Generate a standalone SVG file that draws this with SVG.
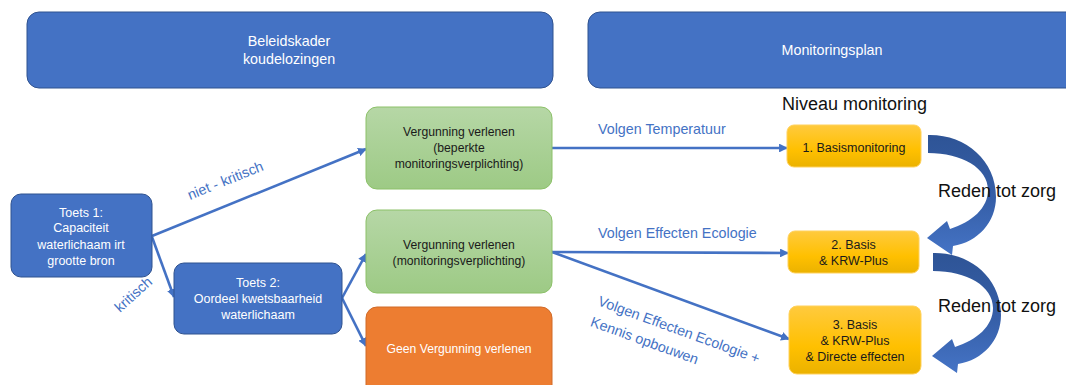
<svg xmlns="http://www.w3.org/2000/svg" width="1066" height="385" viewBox="0 0 1066 385">
  <defs>
    <style>
      text { font-family: "Liberation Sans", Arial, sans-serif; }
      .hdr { fill: #4472C4; stroke: #2F528F; stroke-width: 1; }
      .hdrt { fill: #ffffff; font-size: 14.3px; text-anchor: middle; }
      .toets { fill: #4472C4; stroke: #2F528F; stroke-width: 1; }
      .toetst { fill: #ffffff; font-size: 12.5px; text-anchor: middle; }
      .green { fill: url(#gGreen); stroke: #8CC168; stroke-width: 1; }
      .greent { fill: #1a1a1a; font-size: 12.2px; text-anchor: middle; }
      .orange { fill: #ED7D31; stroke: #D06A28; stroke-width: 1; }
      .oranget { fill: #ffffff; font-size: 12.2px; text-anchor: middle; }
      .yellow { fill: url(#gYellow); stroke: #FFD15C; stroke-width: 1; }
      .yellowt { fill: #1a1a1a; font-size: 12.5px; text-anchor: middle; }
      .conn { stroke: #4472C4; stroke-width: 2.6; fill: none; marker-end: url(#ah); }
      .lbl { fill: #4472C4; font-size: 14.3px; }
      .big { fill: #111111; font-size: 18px; }
    </style>
    <linearGradient id="gGreen" x1="0" y1="0" x2="0" y2="1">
      <stop offset="0" stop-color="#B6D7A6"/>
      <stop offset="1" stop-color="#9DCA85"/>
    </linearGradient>
    <linearGradient id="gYellow" x1="0" y1="0" x2="0" y2="1">
      <stop offset="0" stop-color="#FFCA3E"/>
      <stop offset="0.6" stop-color="#FFC000"/>
      <stop offset="1" stop-color="#EBB200"/>
    </linearGradient>
    <linearGradient id="gArrow" x1="0" y1="0" x2="0" y2="1">
      <stop offset="0" stop-color="#2E5496"/>
      <stop offset="0.55" stop-color="#365FA8"/>
      <stop offset="1" stop-color="#4574C6"/>
    </linearGradient>
    <marker id="ah" viewBox="0 0 10 10" refX="9" refY="5" markerWidth="3.4" markerHeight="3.4" orient="auto" markerUnits="strokeWidth">
      <path d="M0,0 L10,5 L0,10 Z" fill="#4472C4"/>
    </marker>
    <path id="curvedArrow" d="M928,135 C965,134 996,160 996,197 C996,222 978,242 953,246 L952,255 L927,238 L947,221 L950,229 C972,222 988,208 988,190 C988,168 962,153 928,153 Z" fill="url(#gArrow)"/>
  </defs>

  <g id="beleidskader">
    <rect class="hdr" x="27" y="12" width="526" height="76" rx="12"/>
    <text class="hdrt" x="289" y="46">Beleidskader</text>
    <text class="hdrt" x="289" y="64">koudelozingen</text>
  </g>
  <g id="monitoringsplan">
    <rect class="hdr" x="588" y="12" width="500" height="76" rx="12"/>
    <text class="hdrt" x="832" y="55">Monitoringsplan</text>
  </g>

  <g id="niveau-monitoring">
    <text class="big" x="782" y="110" font-size="18.5">Niveau monitoring</text>
  </g>

  <g id="connectors">
    <path class="conn" d="M152,236 L366,149"/>
    <path class="conn" d="M152,237 L174,297"/>
    <path class="conn" d="M342,298 L366,254"/>
    <path class="conn" d="M342,298 L366,346"/>
    <path class="conn" d="M552,148 L787,148"/>
    <path class="conn" d="M552,252 L788,253"/>
    <path class="conn" d="M552,252 L789,339"/>
    <text class="lbl" transform="translate(190,200) rotate(-22)">niet - kritisch</text>
    <text class="lbl" transform="translate(120,313) rotate(-42)">kritisch</text>
    <text class="lbl" x="598" y="134">Volgen Temperatuur</text>
    <text class="lbl" x="598" y="238">Volgen Effecten Ecologie</text>
    <text class="lbl" transform="translate(597,305) rotate(20)"><tspan x="0" y="0">Volgen Effecten Ecologie +</tspan><tspan x="0" y="22">Kennis opbouwen</tspan></text>
  </g>

  <g id="toets1">
    <rect class="toets" x="11" y="194" width="141" height="83" rx="10"/>
    <text class="toetst" x="81" y="216.5">Toets 1:</text>
    <text class="toetst" x="81" y="232">Capaciteit</text>
    <text class="toetst" x="81" y="248.5">waterlichaam irt</text>
    <text class="toetst" x="81" y="265">grootte bron</text>
  </g>
  <g id="toets2">
    <rect class="toets" x="174" y="263" width="168" height="71" rx="10"/>
    <text class="toetst" x="258" y="286.5">Toets 2:</text>
    <text class="toetst" x="258" y="302.5">Oordeel kwetsbaarheid</text>
    <text class="toetst" x="258" y="318.5">waterlichaam</text>
  </g>

  <g id="vergunning-beperkt">
    <rect class="green" x="366" y="107" width="186" height="82" rx="11"/>
    <text class="greent" x="459" y="136">Vergunning verlenen</text>
    <text class="greent" x="459" y="152.3">(beperkte</text>
    <text class="greent" x="459" y="168">monitoringsverplichting)</text>
  </g>
  <g id="vergunning-monitoring">
    <rect class="green" x="366" y="210" width="186" height="83" rx="11"/>
    <text class="greent" x="459" y="249.3">Vergunning verlenen</text>
    <text class="greent" x="459" y="265">(monitoringsverplichting)</text>
  </g>
  <g id="geen-vergunning">
    <rect class="orange" x="366" y="307" width="186" height="95" rx="11"/>
    <text class="oranget" x="459" y="352.7">Geen Vergunning verlenen</text>
  </g>

  <g id="basismonitoring">
    <rect class="yellow" x="787" y="125" width="134" height="42" rx="7"/>
    <text class="yellowt" x="854" y="151.7">1. Basismonitoring</text>
  </g>
  <g id="basis-krw">
    <rect class="yellow" x="788" y="231" width="131" height="42" rx="7"/>
    <text class="yellowt" x="853.5" y="249.3">2. Basis</text>
    <text class="yellowt" x="853.5" y="265">&amp; KRW-Plus</text>
  </g>
  <g id="basis-krw-directe">
    <rect class="yellow" x="789" y="306" width="132" height="68" rx="8"/>
    <text class="yellowt" x="855" y="329.3">3. Basis</text>
    <text class="yellowt" x="855" y="345">&amp; KRW-Plus</text>
    <text class="yellowt" x="855" y="360.7">&amp; Directe effecten</text>
  </g>

  <g id="reden-tot-zorg-1">
    <use href="#curvedArrow"/>
    <text class="big" x="938" y="197">Reden tot zorg</text>
  </g>
  <g id="reden-tot-zorg-2">
    <use href="#curvedArrow" transform="translate(5,118)"/>
    <text class="big" x="938" y="312">Reden tot zorg</text>
  </g>
</svg>
